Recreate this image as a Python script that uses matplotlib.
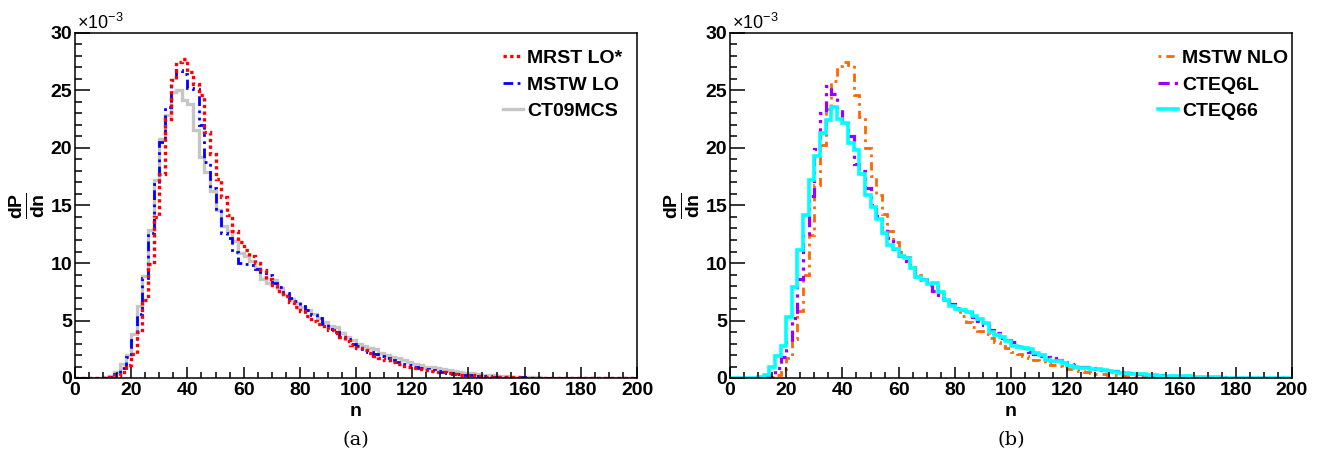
import numpy as np
import matplotlib
matplotlib.use("Agg")
import matplotlib.pyplot as plt

plt.rcParams['font.family'] = ['Liberation Sans', 'DejaVu Sans']
plt.rcParams['mathtext.fontset'] = 'custom'
plt.rcParams['mathtext.rm'] = 'Liberation Sans'
plt.rcParams['mathtext.bf'] = 'Liberation Sans:bold'

# bin edges: n from 0 to 200 in steps of 2
edges = np.arange(0, 202, 2)

# values in units of 1e-3, 10 bins per row (20 units of n)
mrst_lo_star = [
    0, 0, 0, 0, 0.01, 0.02, 0.05, 0.2, 0.5, 1.1,
    2.1, 4.0, 6.8, 9.9, 14.0, 17.7, 22.5, 25.9, 27.5, 27.7,
    26.6, 25.6, 24.6, 21.4, 19.5, 17.3, 15.7, 14.2, 12.8, 11.8,
    11.1, 10.6, 10.0, 9.4, 8.6, 8.1, 7.6, 7.1, 6.6, 6.2,
    5.8, 5.4, 5.0, 4.7, 4.5, 4.2, 3.9, 3.6, 3.2, 2.9,
    2.65, 2.45, 2.2, 1.95, 1.75, 1.55, 1.4, 1.25, 1.05, 0.95,
    0.85, 0.8, 0.72, 0.62, 0.55, 0.48, 0.42, 0.36, 0.3, 0.26,
    0.22, 0.18, 0.15, 0.12, 0.1, 0.08, 0.07, 0.06, 0.05, 0.04,
    0.03, 0.03, 0.02, 0.02, 0.02, 0.01, 0.01, 0.01, 0.01, 0.01,
    0.01, 0.01, 0, 0, 0, 0, 0, 0, 0, 0,
]
mstw_lo = [
    0, 0, 0, 0, 0.01, 0.03, 0.08, 0.35, 0.9, 1.8,
    3.3, 5.6, 8.7, 12.6, 16.9, 20.5, 23.6, 25.9, 26.8, 26.4,
    25.2, 25.1, 22.0, 18.8, 16.5, 14.5, 12.6, 12.2, 11.0, 10.0,
    9.9, 9.8, 9.5, 9.2, 9.0, 8.3, 7.9, 7.4, 7.0, 6.7,
    6.3, 5.9, 5.5, 5.2, 4.7, 4.3, 4.0, 3.6, 3.4, 3.0,
    2.8, 2.5, 2.3, 2.1, 1.9, 1.75, 1.55, 1.4, 1.25, 1.1,
    1.0, 0.9, 0.8, 0.7, 0.6, 0.52, 0.45, 0.38, 0.32, 0.28,
    0.24, 0.2, 0.17, 0.14, 0.12, 0.1, 0.08, 0.07, 0.06, 0.05,
    0.04, 0.04, 0.03, 0.03, 0.02, 0.02, 0.02, 0.01, 0.01, 0.01,
    0.01, 0.01, 0.01, 0.01, 0, 0, 0, 0, 0, 0,
]
ct09mcs = [
    0, 0, 0, 0.01, 0.02, 0.05, 0.15, 0.5, 1.25, 2.0,
    3.8, 6.3, 8.9, 12.9, 17.2, 20.8, 22.9, 24.9, 25.0, 24.2,
    23.8, 21.6, 19.2, 17.9, 16.3, 14.6, 13.2, 12.8, 11.9, 10.9,
    10.6, 10.2, 9.6, 8.6, 8.3, 8.5, 7.8, 7.2, 6.9, 6.5,
    6.2, 5.9, 5.6, 5.2, 4.9, 4.5, 4.4, 3.9, 3.6, 3.3,
    3.0, 2.8, 2.65, 2.55, 2.2, 2.0, 1.85, 1.75, 1.55, 1.4,
    1.25, 1.1, 1.0, 0.95, 0.9, 0.8, 0.72, 0.6, 0.52, 0.45,
    0.4, 0.35, 0.3, 0.26, 0.22, 0.19, 0.16, 0.13, 0.11, 0.09,
    0.07, 0.06, 0.05, 0.04, 0.04, 0.03, 0.03, 0.02, 0.02, 0.02,
    0.02, 0.01, 0.01, 0.01, 0.01, 0.01, 0.01, 0.01, 0, 0,
]
mstw_nlo = [
    0, 0, 0, 0, 0, 0, 0.02, 0.1, 0.3, 0.8,
    1.7, 3.4, 5.8, 9.0, 12.4, 16.8, 20.3, 23.4, 25.8, 27.1,
    27.5, 27.2, 24.6, 22.7, 20.0, 17.6, 15.9, 14.3, 12.8, 11.8,
    11.0, 10.5, 9.8, 9.0, 8.6, 8.2, 7.9, 7.3, 6.8, 6.4,
    6.0, 5.4, 4.9, 4.4, 4.1, 3.8, 3.5, 3.1, 2.8, 2.6,
    2.3, 2.1, 1.9, 1.75, 1.6, 1.45, 1.3, 1.15, 1.05, 0.95,
    0.8, 0.7, 0.62, 0.52, 0.45, 0.38, 0.33, 0.28, 0.24, 0.2,
    0.17, 0.15, 0.12, 0.1, 0.09, 0.07, 0.06, 0.05, 0.04, 0.03,
    0.03, 0.02, 0.02, 0.02, 0.01, 0.01, 0.01, 0.01, 0.01, 0.01,
    0.01, 0, 0, 0, 0, 0, 0, 0, 0, 0,
]
cteq6l = [
    0, 0, 0, 0, 0, 0.02, 0.1, 0.3, 0.9, 1.8,
    3.1, 5.2, 8.6, 12.5, 15.8, 19.9, 23.0, 25.4, 24.7, 23.4,
    22.2, 21.0, 18.6, 18.0, 16.5, 15.0, 14.1, 13.0, 12.2, 11.2,
    10.6, 10.2, 9.6, 8.9, 8.5, 8.1, 7.6, 7.0, 6.7, 6.4,
    6.1, 5.9, 5.75, 5.3, 5.0, 4.6, 4.2, 3.9, 3.5, 3.3,
    3.1, 2.8, 2.6, 2.3, 2.1, 1.95, 1.8, 1.7, 1.55, 1.4,
    1.25, 1.1, 1.0, 0.95, 0.88, 0.8, 0.72, 0.65, 0.58, 0.5,
    0.45, 0.4, 0.36, 0.32, 0.28, 0.25, 0.22, 0.2, 0.17, 0.15,
    0.12, 0.1, 0.09, 0.08, 0.07, 0.06, 0.05, 0.05, 0.04, 0.04,
    0.03, 0.03, 0.03, 0.02, 0.02, 0.02, 0.02, 0.01, 0.01, 0.01,
]
cteq66 = [
    0.02, 0.02, 0.02, 0.02, 0.02, 0.05, 0.25, 0.95, 1.9, 2.8,
    5.3, 7.9, 11.1, 14.2, 17.2, 19.3, 21.3, 22.4, 23.6, 22.5,
    22.2, 20.4, 19.8, 17.7, 15.9, 14.9, 13.8, 12.6, 11.6, 11.2,
    10.6, 10.4, 9.6, 8.8, 8.5, 8.2, 8.3, 7.5, 6.8, 6.3,
    6.0, 5.9, 5.7, 5.4, 5.1, 4.8, 4.0, 3.7, 3.6, 3.2,
    2.8, 2.7, 2.6, 2.55, 2.2, 2.0, 1.6, 1.5, 1.5, 1.3,
    1.05, 0.95, 0.9, 0.85, 0.8, 0.78, 0.72, 0.6, 0.5, 0.45,
    0.4, 0.38, 0.37, 0.35, 0.3, 0.22, 0.2, 0.18, 0.15, 0.15,
    0.15, 0.14, 0.1, 0.08, 0.07, 0.05, 0.05, 0.04, 0.04, 0.03,
    0.03, 0.03, 0.03, 0.02, 0.02, 0.02, 0.02, 0.02, 0.02, 0.02,
]

labels_a = ["MRST LO*", "MSTW LO", "CT09MCS"]
labels_b = ["MSTW NLO", "CTEQ6L", "CTEQ66"]
xticks = [0, 20, 40, 60, 80, 100, 120, 140, 160, 180, 200]
yticks = [0, 5, 10, 15, 20, 25, 30]

W, H = 1324, 470
fig = plt.figure(figsize=(W / 100, H / 100), dpi=100)

ax_a = fig.add_axes([75 / W, 92 / H, 562 / W, 345 / H])
ax_b = fig.add_axes([730 / W, 92 / H, 562 / W, 345 / H])

dot = (0, (1.0, 1.0))
dashdotdot = (0, (3.5, 1.6, 1.0, 1.6, 1.0, 1.6))
dashdot = (0, (1.0, 1.8, 3.0, 1.8))

# panel (a): draw order gray, blue, red
h_gray = ax_a.stairs(ct09mcs, edges, baseline=None, color='#c6c6c6', lw=2.4, label=labels_a[2])
h_blue = ax_a.stairs(mstw_lo, edges, baseline=None, color='#0000ff', lw=2.0, linestyle=dashdotdot, label=labels_a[1])
h_red = ax_a.stairs(mrst_lo_star, edges, baseline=None, color='#ff0000', lw=2.4, linestyle=dot, label=labels_a[0])

h_or = ax_b.stairs(mstw_nlo, edges, baseline=None, color='#ff6600', lw=2.0, linestyle=dashdot, label=labels_b[0])
h_pu = ax_b.stairs(cteq6l, edges, baseline=None, color='#9900ff', lw=2.3, linestyle=dashdotdot, label=labels_b[1])
h_cy = ax_b.stairs(cteq66, edges, baseline=None, color='#00ffff', lw=2.6, label=labels_b[2])

for ax, handles, labels, tag in [(ax_a, [h_red, h_blue, h_gray], labels_a, '(a)'),
                                 (ax_b, [h_or, h_pu, h_cy], labels_b, '(b)')]:
    ax.set_xlim(0, 200)
    ax.set_ylim(0, 30)
    ax.set_xticks(xticks)
    ax.set_yticks(yticks)
    ax.set_xticks(np.arange(0, 201, 5), minor=True)
    ax.set_yticks(np.arange(0, 31, 1), minor=True)
    ax.tick_params(axis='both', which='both', direction='in', top=False, right=False,
                   width=1.1, colors='black')
    ax.tick_params(axis='x', which='major', length=8, pad=3)
    ax.tick_params(axis='x', which='minor', length=4.3)
    ax.tick_params(axis='y', which='major', length=10.5, pad=2)
    ax.tick_params(axis='y', which='minor', length=4.8)
    for lab in ax.get_xticklabels() + ax.get_yticklabels():
        lab.set_fontweight('bold')
        lab.set_fontsize(14)
    for sp in ax.spines.values():
        sp.set_linewidth(1.1)
    ax.set_xlabel('n', fontsize=14, fontweight='bold', labelpad=3)
    ax.set_ylabel(r'$\mathbf{\frac{dP}{dn}}$', fontsize=20, rotation=90)
    ax.yaxis.set_label_coords(-0.05, 0.5)
    ax.text(0.003, 1.0, r'$\times$10$^{\mathregular{-3}}$', transform=ax.transAxes,
            ha='left', va='bottom', fontsize=13)
    ax.legend(handles, labels, loc='upper left', bbox_to_anchor=(0.7616, 0.952),
              frameon=False, handlelength=1.05, handletextpad=0.2,
              borderaxespad=0, borderpad=0, labelspacing=0.45,
              prop={'weight': 'bold', 'size': 14})
    bb = ax.get_position()
    fig.text(bb.x0 + bb.width / 2, 1 - 440 / H, tag, ha='center', va='center',
             fontsize=14, family=['DejaVu Serif'])

fig.savefig('out.png', dpi=100)
